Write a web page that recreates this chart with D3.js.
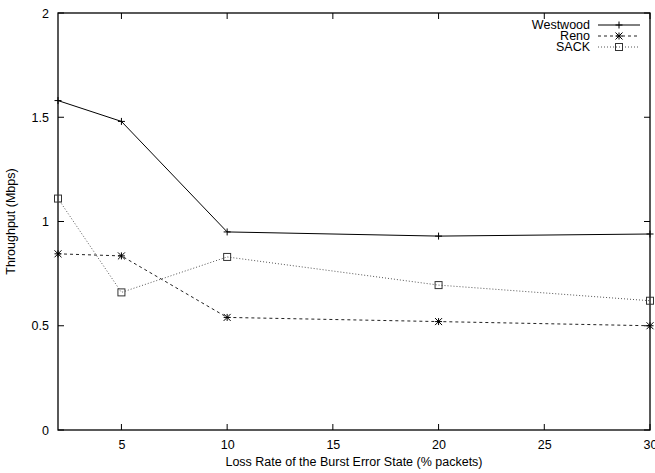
<!DOCTYPE html>
<html lang="en">
<head>
<meta charset="UTF-8">
<title>Throughput vs loss rate</title>
<script src="https://d3js.org/d3.v7.min.js"></script>
<style>
  body { margin: 0; background: #fff; }
  text { font-family: "Liberation Sans", Arial, sans-serif; fill: #000; }
</style>
</head>
<body>
<div id="chart"></div>
<script>
// data
const lossRates = [2, 5, 10, 20, 30];
const westwood = [1.58, 1.48, 0.95, 0.93, 0.94];
const reno = [0.845, 0.835, 0.54, 0.52, 0.50];
const sack = [1.11, 0.66, 0.83, 0.695, 0.62];
const xTicks = [5, 10, 15, 20, 25, 30];
const yTicks = [0, 0.5, 1, 1.5, 2];

const W = 655, H = 473;
const margin = { top: 13, right: 5, bottom: 43, left: 58 };

const svg = d3.select('#chart').append('svg')
    .attr('width', W).attr('height', H);

const x = d3.scaleLinear().domain([2, 30]).range([margin.left, W - margin.right]);
const y = d3.scaleLinear().domain([0, 2]).range([H - margin.bottom, margin.top]);

const x0 = x.range()[0], x1 = x.range()[1];
const y0 = y.range()[0], y1 = y.range()[1];
const tickLen = 6;

// frame
svg.append('rect')
    .attr('x', x0).attr('y', y1)
    .attr('width', x1 - x0).attr('height', y0 - y1)
    .attr('fill', 'none').attr('stroke', '#000').attr('stroke-width', 1.3);

// x axis (ticks inward, mirrored at top)
const gx = svg.append('g').attr('transform', `translate(0,${y0})`)
    .call(d3.axisBottom(x).tickValues(xTicks).tickSize(0).tickPadding(10));
gx.select('.domain').remove();
gx.selectAll('text').attr('font-size', 12.5);
xTicks.forEach(t => {
    svg.append('line').attr('x1', x(t)).attr('x2', x(t)).attr('y1', y0).attr('y2', y0 - tickLen).attr('stroke', '#000');
    svg.append('line').attr('x1', x(t)).attr('x2', x(t)).attr('y1', y1).attr('y2', y1 + tickLen).attr('stroke', '#000');
});

// y axis
const gy = svg.append('g').attr('transform', `translate(${x0},0)`)
    .call(d3.axisLeft(y).tickValues(yTicks).tickSize(0).tickPadding(9).tickFormat(d3.format('')));
gy.select('.domain').remove();
gy.selectAll('text').attr('font-size', 12.5);
yTicks.forEach(t => {
    svg.append('line').attr('x1', x0).attr('x2', x0 + tickLen).attr('y1', y(t)).attr('y2', y(t)).attr('stroke', '#000');
    svg.append('line').attr('x1', x1).attr('x2', x1 - tickLen).attr('y1', y(t)).attr('y2', y(t)).attr('stroke', '#000');
});

// axis titles
svg.append('text')
    .attr('x', (x0 + x1) / 2).attr('y', 466)
    .attr('text-anchor', 'middle').attr('font-size', 12.5)
    .text('Loss Rate of the Burst Error State (% packets)');
svg.append('text')
    .attr('transform', `translate(15,${(y0 + y1) / 2}) rotate(-90)`)
    .attr('text-anchor', 'middle').attr('font-size', 12.5)
    .text('Throughput (Mbps)');

const line = d3.line().x(d => x(d[0])).y(d => y(d[1]));

const series = [
    { name: 'Westwood', values: westwood, dash: null, color: '#000', marker: 'plus' },
    { name: 'Reno', values: reno, dash: '3,3', color: '#222', marker: 'star' },
    { name: 'SACK', values: sack, dash: '1,2', color: '#555', marker: 'square' }
];

function drawMarker(g, kind, cx, cy) {
    const s = 3.5;
    if (kind === 'plus') {
        g.append('path').attr('d', `M${cx - s},${cy}H${cx + s}M${cx},${cy - s}V${cy + s}`)
            .attr('stroke', '#000').attr('fill', 'none');
    } else if (kind === 'star') {
        g.append('path').attr('d',
            `M${cx - s},${cy}H${cx + s}M${cx},${cy - s}V${cy + s}` +
            `M${cx - s},${cy - s}L${cx + s},${cy + s}M${cx - s},${cy + s}L${cx + s},${cy - s}`)
            .attr('stroke', '#000').attr('fill', 'none');
    } else {
        g.append('rect').attr('x', cx - s).attr('y', cy - s)
            .attr('width', 2 * s).attr('height', 2 * s)
            .attr('stroke', '#333').attr('fill', 'none');
    }
}

series.forEach(s => {
    const pts = lossRates.map((r, i) => [r, s.values[i]]);
    svg.append('path').datum(pts)
        .attr('d', line)
        .attr('fill', 'none')
        .attr('stroke', s.color)
        .attr('stroke-width', 1)
        .attr('stroke-dasharray', s.dash);
    const g = svg.append('g');
    pts.forEach(p => drawMarker(g, s.marker, x(p[0]), y(p[1])));
});

// legend
series.forEach((s, i) => {
    const ly = 25 + i * 11;
    svg.append('text')
        .attr('x', 590).attr('y', ly).attr('dy', '0.35em')
        .attr('text-anchor', 'end').attr('font-size', 12.5)
        .text(s.name);
    svg.append('line')
        .attr('x1', 598).attr('x2', 640).attr('y1', ly).attr('y2', ly)
        .attr('stroke', s.color).attr('stroke-dasharray', s.dash);
    drawMarker(svg, s.marker, 619, ly);
});
</script>
</body>
</html>
